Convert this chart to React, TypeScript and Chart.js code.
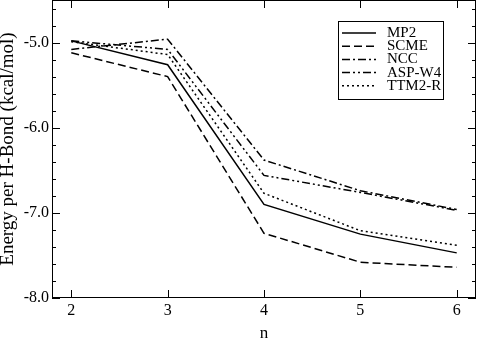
import React, { useEffect, useRef } from "react";
import { Chart, registerables } from "chart.js";

Chart.register(...registerables);

const nValues = [2, 3, 4, 5, 6];
const mp2 = [-4.98, -5.26, -6.9, -7.25, -7.47];
const scme = [-5.12, -5.4, -7.24, -7.58, -7.64];
const ncc = [-5.08, -4.96, -6.38, -6.74, -6.96];
const aspW4 = [-4.98, -5.08, -6.56, -6.76, -6.97];
const ttm2r = [-4.99, -5.14, -6.77, -7.21, -7.38];

const seriesNames = ["MP2", "SCME", "NCC", "ASP-W4", "TTM2-R"];
const xTicks = [2, 3, 4, 5, 6];
const yTicks = [-8, -7, -6, -5];

const FONT = "'Liberation Serif', 'Times New Roman', serif";

const dashes: number[][] = [
  [],
  [8, 4],
  [8, 3, 2, 3],
  [8, 3, 2, 3, 2, 3],
  [2, 3],
];

const framePlugin = {
  id: "frame",
  afterDatasetsDraw(chart: any) {
    const { ctx, chartArea: a, scales } = chart;
    const xs = scales.x;
    const ys = scales.y;
    ctx.save();
    ctx.strokeStyle = "#000";
    ctx.lineWidth = 1;
    ctx.setLineDash([]);
    ctx.strokeRect(a.left + 0.5, a.top + 0.5, a.right - a.left - 1, a.bottom - a.top - 1);
    ctx.beginPath();
    for (const v of xTicks) {
      const px = Math.round(xs.getPixelForValue(v)) + 0.5;
      ctx.moveTo(px, a.bottom);
      ctx.lineTo(px, a.bottom - 8);
      ctx.moveTo(px, a.top);
      ctx.lineTo(px, a.top + 8);
    }
    for (let i = 0; i <= 17; i++) {
      const v = -8 + i * 0.2;
      const major = Math.abs(v - Math.round(v)) < 1e-6;
      const len = major ? 8 : 4;
      const py = Math.round(ys.getPixelForValue(v)) + 0.5;
      ctx.moveTo(a.left, py);
      ctx.lineTo(a.left + len, py);
      ctx.moveTo(a.right, py);
      ctx.lineTo(a.right - len, py);
    }
    ctx.stroke();

    // legend box
    const lx = 338, ly = 21, lw = 105, lh = 78;
    ctx.fillStyle = "#fff";
    ctx.fillRect(lx, ly, lw, lh);
    ctx.strokeRect(lx + 0.5, ly + 0.5, lw, lh);
    ctx.font = `15px ${FONT}`;
    ctx.textBaseline = "middle";
    ctx.textAlign = "left";
    ctx.fillStyle = "#000";
    chart.data.datasets.forEach((ds: any, i: number) => {
      const y = ly + 12 + i * 13.2;
      ctx.save();
      ctx.lineWidth = 1.5;
      ctx.setLineDash(ds.borderDash || []);
      ctx.beginPath();
      ctx.moveTo(lx + 4, y);
      ctx.lineTo(lx + 38, y);
      ctx.stroke();
      ctx.restore();
      ctx.fillText(ds.label, lx + 49, y);
    });
    ctx.restore();
  },
};

export default function App() {
  const ref = useRef<HTMLCanvasElement>(null);
  useEffect(() => {
    document.body.style.margin = "0";
    const all = [mp2, scme, ncc, aspW4, ttm2r];
    const chart = new Chart(ref.current!, {
      type: "line",
      data: {
        datasets: all.map((arr, i) => ({
          label: seriesNames[i],
          data: nValues.map((n, j) => ({ x: n, y: arr[j] })),
          borderColor: "#000",
          borderWidth: 1.5,
          borderDash: dashes[i],
          pointRadius: 0,
          fill: false,
          tension: 0,
        })),
      },
      options: {
        responsive: false,
        animation: false,
        maintainAspectRatio: false,
        layout: { padding: { top: 0, right: 1, left: 0, bottom: 0 } },
        plugins: { legend: { display: false }, tooltip: { enabled: false } },
        scales: {
          x: {
            type: "linear",
            min: 1.8,
            max: 6.2,
            afterBuildTicks: (s: any) => {
              s.ticks = xTicks.map((v) => ({ value: v }));
            },
            afterFit: (s: any) => {
              s.height = 40;
              s.paddingLeft = 0;
              s.paddingRight = 0;
            },
            grid: { display: false, drawTicks: false },
            border: { display: false },
            ticks: {
              color: "#000",
              font: { family: FONT, size: 16 },
              padding: 3,
              maxRotation: 0,
              callback: (v: any) => String(v),
            },
            title: {
              display: true,
              text: "n",
              color: "#000",
              font: { family: FONT, size: 17 },
              padding: { top: 0, bottom: -6 },
            },
          },
          y: {
            type: "linear",
            min: -8,
            max: -4.5,
            afterBuildTicks: (s: any) => {
              s.ticks = yTicks.map((v) => ({ value: v }));
            },
            afterFit: (s: any) => {
              s.width = 52;
              s.paddingTop = 0;
              s.paddingBottom = 0;
            },
            grid: { display: false, drawTicks: false },
            border: { display: false },
            ticks: {
              color: "#000",
              font: { family: FONT, size: 16 },
              padding: 3,
              callback: (v: any) => Number(v).toFixed(1),
            },
            title: {
              display: true,
              text: "Energy per H-Bond (kcal/mol)",
              color: "#000",
              font: { family: FONT, size: 19 },
              padding: { top: -3, bottom: 0 },
            },
          },
        },
      },
      plugins: [framePlugin],
    });
    return () => chart.destroy();
  }, []);
  return (
    <div style={{ position: "absolute", left: 0, top: 0, width: 477, height: 338 }}>
      <canvas ref={ref} width={477} height={338} />
    </div>
  );
}
